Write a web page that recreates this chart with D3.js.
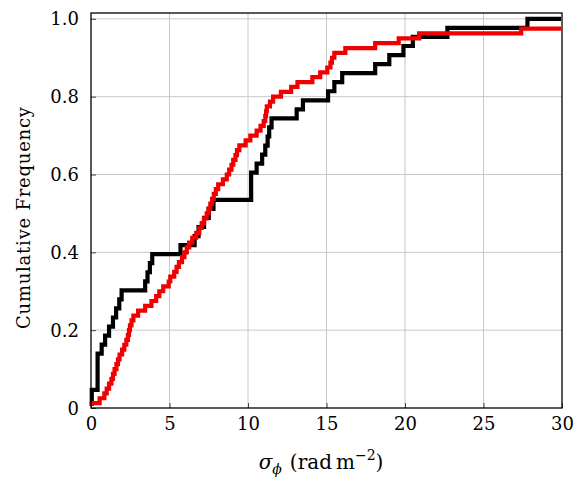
<!DOCTYPE html>
<html>
<head>
<meta charset="utf-8">
<script src="https://cdn.jsdelivr.net/npm/d3@7"></script>
<style>
    body { margin: 0; background: #fff; }
</style>
</head>
<body>
<div id="chart"></div>
<script>

// axis ticks
var xTicks = [0, 5, 10, 15, 20, 25, 30];
var yTicks = [0, 0.2, 0.4, 0.6, 0.8, 1.0];
var yTickLabels = ["0", "0.2", "0.4", "0.6", "0.8", "1.0"];

// sorted sample values (rad m^-2), one per step of each cumulative curve
var blackValues = [
    0.05, 0.05, 0.42, 0.42, 0.42, 0.42, 0.68, 0.9, 1.15, 1.4, 1.6, 1.8, 1.95,
    3.45, 3.6, 3.75, 3.9, 5.7, 6.6, 6.85, 7.2, 7.5, 7.8,
    10.2, 10.2, 10.2, 10.55, 10.9, 11.1, 11.25, 11.35, 11.5,
    13.1, 13.5, 15.1, 15.5, 16.0, 18.1, 19.0, 19.9, 20.5, 22.7, 27.8
];
var redValues = [
    0.05, 0.55, 0.85, 1.0, 1.15, 1.3, 1.4, 1.5, 1.62, 1.72, 1.82, 1.98,
    2.12, 2.25, 2.35, 2.42, 2.48, 2.58, 2.7, 3.0, 3.45, 3.85, 4.15, 4.35,
    4.6, 4.95, 5.05, 5.3, 5.45, 5.6, 5.8, 5.95, 6.1, 6.25, 6.45, 6.7,
    6.9, 7.05, 7.2, 7.37, 7.48, 7.6, 7.71, 7.82, 7.95, 8.1, 8.4, 8.65,
    8.8, 8.95, 9.06, 9.2, 9.3, 9.45, 9.85, 10.15, 10.55, 10.8, 11.0, 11.1,
    11.15, 11.2, 11.4, 11.6, 12.1, 12.75, 13.15, 14.1, 14.6, 15.05, 15.25, 15.35,
    15.5, 16.2, 18.1, 19.6, 20.9, 27.4, 33.0, 38.0
];

var series = [
    {name: "black", color: "#000000", values: blackValues},
    {name: "red", color: "#f00000", values: redValues}
];

var serif = "DejaVu Serif";

var width = 576,
    height = 477;
var marginLeft = 91,
    marginTop = 13,
    marginRight = 14,
    marginBottom = 69;
var chartWidth = width - marginLeft - marginRight;
var chartHeight = height - marginTop - marginBottom;

var svg = d3.select("#chart")
    .append("svg")
    .attr("width", width)
    .attr("height", height);

var chart = svg.append("g")
    .attr("transform", "translate(" + marginLeft + "," + marginTop + ")");

// scales
var xScale = d3.scaleLinear().domain([0, 30]).range([0, chartWidth]);
var yScale = d3.scaleLinear().domain([0, 1.015]).range([chartHeight, 0]);

// grid
chart.append("g")
    .attr("class", "grid")
    .selectAll("line.vgrid")
    .data(xTicks.slice(1, -1))
    .enter()
    .append("line")
        .attr("x1", function(d) { return xScale(d); })
        .attr("x2", function(d) { return xScale(d); })
        .attr("y1", 0)
        .attr("y2", chartHeight)
        .attr("stroke", "#c8c8c8")
        .attr("stroke-width", 1);

chart.append("g")
    .attr("class", "grid")
    .selectAll("line.hgrid")
    .data(yTicks.slice(1))
    .enter()
    .append("line")
        .attr("x1", 0)
        .attr("x2", chartWidth)
        .attr("y1", function(d) { return yScale(d); })
        .attr("y2", function(d) { return yScale(d); })
        .attr("stroke", "#c8c8c8")
        .attr("stroke-width", 1);

// axes (inward ticks)
var xAxis = d3.axisBottom(xScale)
    .tickValues(xTicks)
    .tickSize(-5)
    .tickPadding(14)
    .tickFormat(d3.format("d"));
var xAxisContainer = chart.append("g")
    .attr("class", "x axis")
    .attr("transform", "translate(0," + chartHeight + ")")
    .call(xAxis);

var yAxis = d3.axisLeft(yScale)
    .tickValues(yTicks)
    .tickSize(-5)
    .tickPadding(12)
    .tickFormat(function(d, i) { return yTickLabels[i]; });
var yAxisContainer = chart.append("g")
    .attr("class", "y axis")
    .call(yAxis);

chart.selectAll(".axis .domain").remove();
chart.selectAll(".axis")
    .attr("font-family", serif)
    .attr("font-size", 18);
chart.selectAll(".axis line").attr("stroke", "#444");
xAxisContainer.selectAll("text").attr("dy", "0.45em");
yAxisContainer.selectAll("text").attr("dy", "0.34em");

// clip for the curves
svg.append("defs")
    .append("clipPath")
    .attr("id", "plotClip")
    .append("rect")
        .attr("x", -3)
        .attr("y", -6)
        .attr("width", chartWidth + 2)
        .attr("height", chartHeight + 4);

// cumulative step curves
var line = d3.line()
    .x(function(d) { return xScale(d.x); })
    .y(function(d) { return yScale(d.y); })
    .curve(d3.curveStepAfter);

function cumulative(values) {
    var n = values.length;
    var points = [{x: values[0], y: 0}];
    values.forEach(function(v, i) {
        points.push({x: v, y: (i + 1) / n});
    });
    points.push({x: Math.max(30, values[n - 1]) + 1, y: 1});
    return points;
}

chart.append("g")
    .attr("clip-path", "url(#plotClip)")
    .selectAll("path.cdf")
    .data(series)
    .enter()
    .append("path")
        .attr("class", "cdf")
        .attr("d", function(d) { return line(cumulative(d.values)); })
        .attr("fill", "none")
        .attr("stroke", function(d) { return d.color; })
        .attr("stroke-width", 4.2)
        .attr("stroke-linejoin", "miter")
        .attr("stroke-linecap", "square");

// frame
chart.append("rect")
    .attr("x", 0)
    .attr("y", 0)
    .attr("width", chartWidth)
    .attr("height", chartHeight)
    .attr("fill", "none")
    .attr("stroke", "#000")
    .attr("stroke-width", 1.3);

// axis labels
var xLabel = svg.append("text")
    .attr("x", 321)
    .attr("y", 469)
    .attr("text-anchor", "middle")
    .attr("font-family", serif)
    .attr("font-size", 20);
xLabel.append("tspan").attr("font-style", "italic").text("σ");
xLabel.append("tspan").attr("font-style", "italic").attr("font-size", 14).attr("dy", 5).text("ϕ");
xLabel.append("tspan").attr("dy", -5).attr("dx", 8).text("(rad");
xLabel.append("tspan").attr("dx", 4).text("m");
xLabel.append("tspan").attr("font-size", 14).attr("dy", -9).text("−2");
xLabel.append("tspan").attr("dy", 9).text(")");

svg.append("text")
    .attr("transform", "translate(30," + (marginTop + 205) + ") rotate(-90)")
    .attr("text-anchor", "middle")
    .attr("font-family", serif)
    .attr("font-size", 18)
    .attr("textLength", 222)
    .attr("lengthAdjust", "spacing")
    .text("Cumulative Frequency");

</script>
</body>
</html>
